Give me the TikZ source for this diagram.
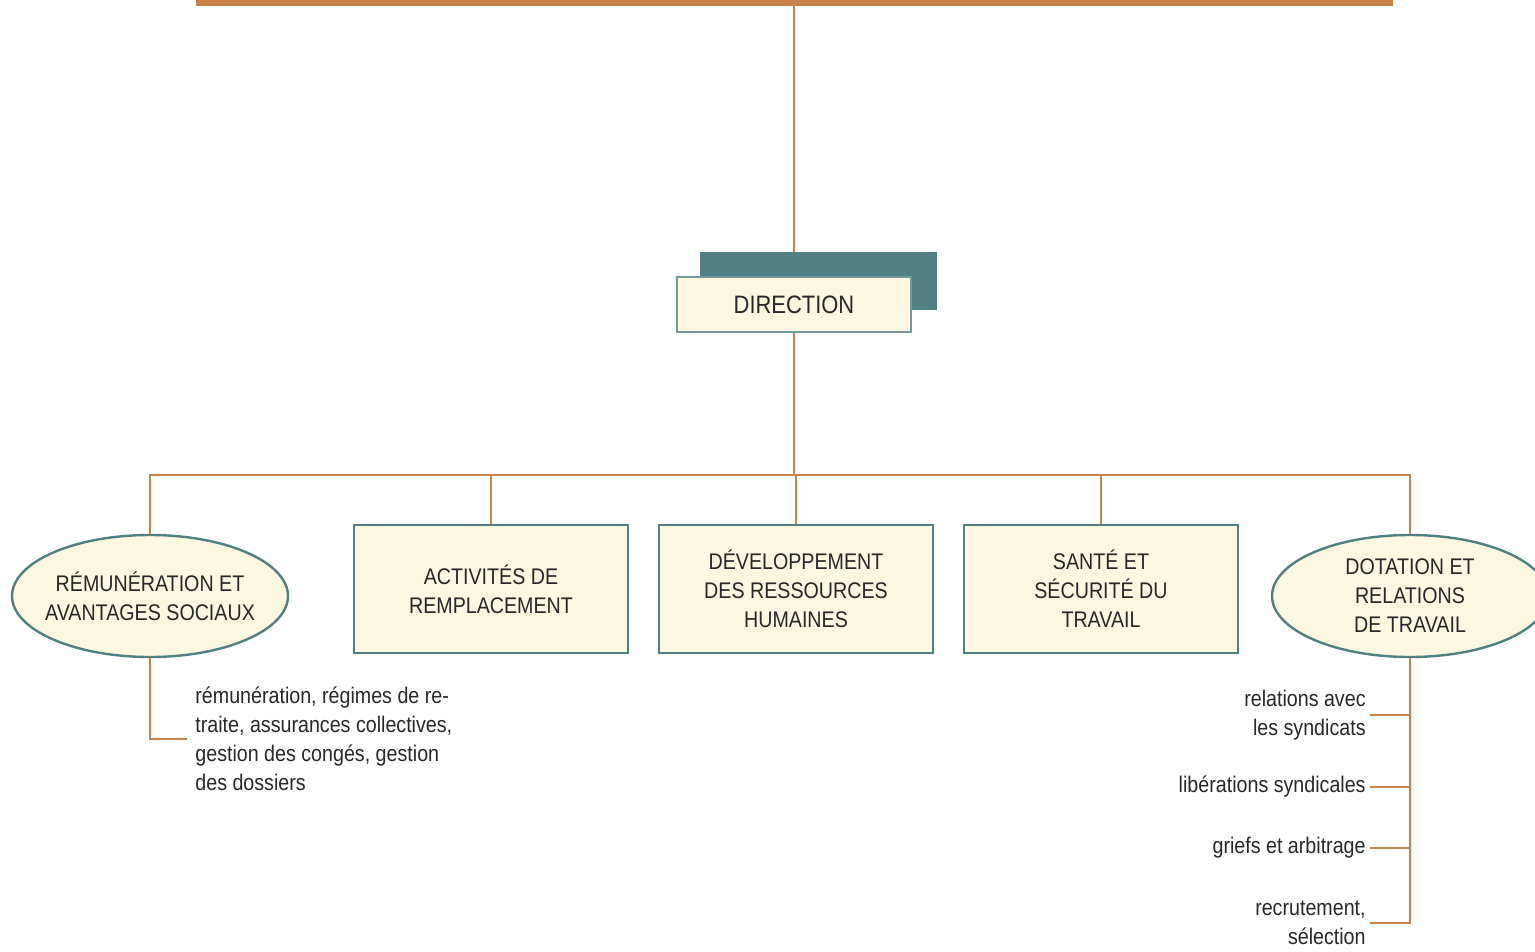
\documentclass[tikz,border=0pt]{standalone}
\usepackage{fontspec}
\setmainfont{Liberation Sans}[FakeStretch=0.87]
\usetikzlibrary{shapes.geometric,backgrounds}
\definecolor{branch}{RGB}{200,130,75}
\definecolor{unitteal}{RGB}{80,128,130}
\definecolor{cream}{RGB}{252,247,224}
\definecolor{ink}{RGB}{40,40,40}
\begin{document}
\begin{tikzpicture}
  [
    x = 0.5pt, y = -0.5pt,
    every node/.style = {text=ink,font=\fontsize{11.3}{14.5}\selectfont},
    unit box/.style = {draw=unitteal,line width=1.2pt,fill=cream,minimum width=137pt,minimum height=64pt,align=center,inner sep=0},
    unit oval/.style = {ellipse,draw=unitteal,line width=1.2pt,fill=cream,minimum width=138pt,minimum height=61pt,align=center,inner xsep=-6pt,inner ysep=0},
    head box/.style = {draw=unitteal!80,line width=1pt,fill=cream,minimum width=117pt,minimum height=27.5pt,font=\fontsize{12.6}{15}\selectfont},
    branch line/.style = {draw=branch,line width=1.1pt},
    task left/.style = {align=left,anchor=west,inner sep=4pt},
    task right/.style = {align=right,anchor=east,inner sep=2pt},
  ]
  \useasboundingbox (0,0) rectangle (1535,952);

  \fill [branch] (196,0) rectangle (1393,6);
  \coordinate (top) at (794,6);
  \coordinate (hub) at (794,475);

  \fill [unitteal] (700,252) rectangle (937,310);
  \node [head box] (direction) at (794,304.5) {DIRECTION};

  \node [unit oval] (remun)    at (150,596)  {RÉMUNÉRATION ET\\AVANTAGES SOCIAUX};
  \node [unit box]  (rempl)    at (491,589)  {ACTIVITÉS DE\\REMPLACEMENT};
  \node [unit box]  (devel)    at (796,589)  {DÉVELOPPEMENT\\DES RESSOURCES\\HUMAINES};
  \node [unit box]  (sante)    at (1101,589) {SANTÉ ET\\SÉCURITÉ DU\\TRAVAIL};
  \node [unit oval] (dotation) at (1410,596) {DOTATION ET\\RELATIONS\\DE TRAVAIL};

  \node [task left]  (remunlist)   at (187,739)  {rémunération, régimes de re-\\traite, assurances collectives,\\gestion des congés, gestion\\des dossiers};
  \node [task right] (syndicats)   at (1370,715) {relations avec\\les syndicats};
  \node [task right] (liberations) at (1370,787) {libérations syndicales};
  \node [task right] (griefs)      at (1370,848) {griefs et arbitrage};
  \node [task right] (recrutement) at (1370,923) {recrutement,\\sélection};

  \begin{scope}[on background layer]
    \draw [branch line] (top) -- (direction);
  \end{scope}
  \draw [branch line] (direction) -- (hub);
  \foreach \u in {remun,rempl,devel,sante,dotation}
    \draw [branch line] (hub) -| (\u);

  \draw [branch line] (remun) |- (remunlist);
  \draw [branch line] (dotation) |- (recrutement);
  \foreach \t in {syndicats,liberations,griefs}
    \draw [branch line] (\t) -- (\t -| dotation);

\end{tikzpicture}
\end{document}
